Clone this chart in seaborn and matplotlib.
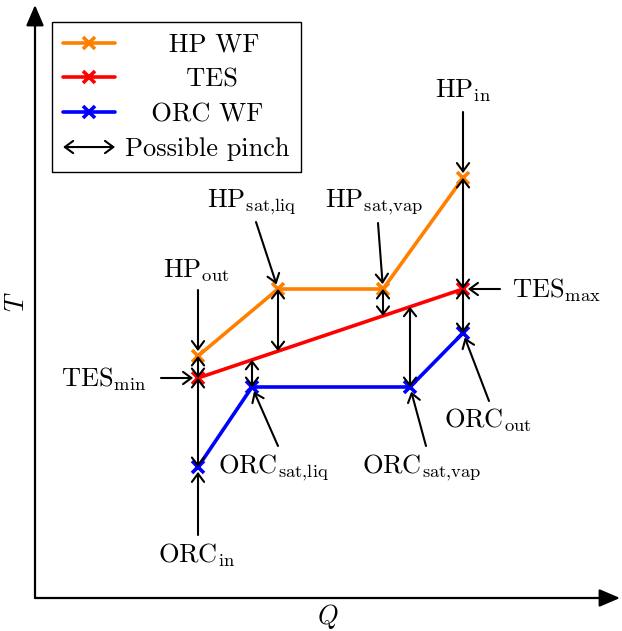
import numpy as np
import pandas as pd
import matplotlib
matplotlib.use("Agg")
import matplotlib.pyplot as plt
import seaborn as sns
from matplotlib.lines import Line2D
from matplotlib.patches import FancyArrowPatch
from matplotlib.legend_handler import HandlerBase

# heat (Q) and temperature (T) of each stream, arbitrary units
hp_q = [163, 243, 348, 428]
hp_t = [242, 309, 309, 420]
tes_q = [163, 428]
tes_t = [220, 309]
orc_q = [163, 217, 375, 428]
orc_t = [131, 211, 211, 265]

streams = ["HP WF", "TES", "ORC WF"]
colors = {"HP WF": "#ff8000", "TES": "#ff0000", "ORC WF": "#0000ff"}

# point labels: (stream, index, label, arrow tail offset, text position)
point_labels = [
    ("HP WF", 3, r"$\mathrm{HP}_{\mathrm{in}}$", (0, 66), (400, 500)),
    ("HP WF", 2, r"$\mathrm{HP}_{\mathrm{sat{,}vap}}$", (-5, 66), (290, 391)),
    ("HP WF", 1, r"$\mathrm{HP}_{\mathrm{sat{,}liq}}$", (-22, 67), (172, 391)),
    ("HP WF", 0, r"$\mathrm{HP}_{\mathrm{out}}$", (0, 66), (128, 320)),
    ("TES", 0, r"$\mathrm{TES}_{\mathrm{min}}$", (-37, 0), (26, 211)),
    ("TES", 1, r"$\mathrm{TES}_{\mathrm{max}}$", (37, 0), (477, 300)),
    ("ORC WF", 3, r"$\mathrm{ORC}_{\mathrm{out}}$", (26, -68), (409, 170)),
    ("ORC WF", 2, r"$\mathrm{ORC}_{\mathrm{sat{,}vap}}$", (16, -59), (327, 125)),
    ("ORC WF", 1, r"$\mathrm{ORC}_{\mathrm{sat{,}liq}}$", (26, -59), (183, 125)),
    ("ORC WF", 0, r"$\mathrm{ORC}_{\mathrm{in}}$", (0, -68), (123, 35)),
]

df = pd.concat([
    pd.DataFrame({"Q": hp_q, "T": hp_t, "stream": "HP WF"}),
    pd.DataFrame({"Q": tes_q, "T": tes_t, "stream": "TES"}),
    pd.DataFrame({"Q": orc_q, "T": orc_t, "stream": "ORC WF"}),
], ignore_index=True)


def pt(stream, i):
    sub = df[df["stream"] == stream].reset_index(drop=True)
    return sub["Q"][i], sub["T"][i]


def tes_at(q):
    return q, np.interp(q, tes_q, tes_t)


sns.set_style("white")
plt.rcParams["font.family"] = "serif"
plt.rcParams["font.serif"] = ["cmr10"]
plt.rcParams["mathtext.fontset"] = "cm"
plt.rcParams["axes.formatter.use_mathtext"] = True
plt.rcParams["text.color"] = "k"
plt.rcParams["axes.labelcolor"] = "k"

FS = 19

fig = plt.figure(figsize=(6.22, 6.31), dpi=100)
ax = fig.add_axes([35 / 622, 33 / 631, 585 / 622, 593 / 631])

for s in streams:
    sns.lineplot(data=df[df["stream"] == s], x="Q", y="T", color=colors[s], sort=False,
                 lw=2.6, marker="x", markersize=8, markeredgewidth=2.6,
                 markeredgecolor=colors[s], ax=ax, zorder=2)

pinch_style = dict(arrowstyle="<->,head_length=0.28,head_width=0.22", lw=1.5,
                   color="k", shrinkA=0, shrinkB=0, mutation_scale=20)
pinches = [
    (pt("HP WF", 0), pt("TES", 0)),
    (pt("TES", 0), pt("ORC WF", 0)),
    (pt("HP WF", 3), pt("TES", 1)),
    (pt("TES", 1), pt("ORC WF", 3)),
    (pt("HP WF", 1), tes_at(hp_q[1])),
    (pt("HP WF", 2), tes_at(hp_q[2])),
    (pt("ORC WF", 1), tes_at(orc_q[1])),
    (pt("ORC WF", 2), tes_at(orc_q[2])),
]
for a, b in pinches:
    ax.annotate("", xy=b, xytext=a, arrowprops=pinch_style, zorder=3)

label_style = dict(arrowstyle="->,head_length=0.3,head_width=0.22", lw=1.5,
                   color="k", shrinkA=0, shrinkB=3.5, mutation_scale=20)
for s, i, lab, off, tpos in point_labels:
    x, y = pt(s, i)
    ax.annotate("", xy=(x, y), xytext=(x + off[0], y + off[1]), arrowprops=label_style, zorder=3)
    ax.text(tpos[0], tpos[1], lab, fontsize=FS, ha="left", va="baseline")

ax.set_xlim(0, 585)
ax.set_ylim(0, 593)
ax.set_xticks([])
ax.set_yticks([])
for sp in ax.spines.values():
    sp.set_visible(False)

axis_style = dict(arrowstyle="-|>,head_length=0.7,head_width=0.3", lw=1.6, color="k",
                  shrinkA=0, shrinkB=0, mutation_scale=18)
ax.annotate("", xy=(1, 0), xytext=(0, 0), xycoords="axes fraction", arrowprops=axis_style,
            annotation_clip=False)
ax.annotate("", xy=(0, 1), xytext=(0, 0), xycoords="axes fraction", arrowprops=axis_style,
            annotation_clip=False)
ax.set_xlabel(r"$Q$", fontsize=FS, labelpad=3)
ax.set_ylabel(r"$T$", fontsize=FS, labelpad=4)


class HandlerPinch(HandlerBase):
    def create_artists(self, legend, orig_handle, xdescent, ydescent, width, height, fontsize, trans):
        y = 0.5 * height - ydescent
        p = FancyArrowPatch((-xdescent, y), (width - xdescent, y), transform=trans,
                            arrowstyle="<->,head_length=0.3,head_width=0.22", lw=1.5,
                            color="k", mutation_scale=20, shrinkA=0, shrinkB=0)
        return [p]


handles = [Line2D([], [], color=colors[s], lw=2.6, marker="x", ms=8, mew=2.6) for s in streams]
handles.append(FancyArrowPatch((0, 0), (1, 0)))
labels = ["     HP WF", "       TES", "   ORC WF", "Possible pinch"]
leg = ax.legend(handles, labels, loc="upper left", bbox_to_anchor=(52 / 622, 1 - 22 / 631),
                bbox_transform=fig.transFigure, fontsize=FS, frameon=True, fancybox=False,
                edgecolor="k", framealpha=1, handlelength=1.97, handletextpad=0.38,
                labelspacing=0.42, borderpad=0.42, borderaxespad=0,
                handler_map={FancyArrowPatch: HandlerPinch()})
leg.get_frame().set_linewidth(1.0)

fig.savefig("out.png", dpi=100)
